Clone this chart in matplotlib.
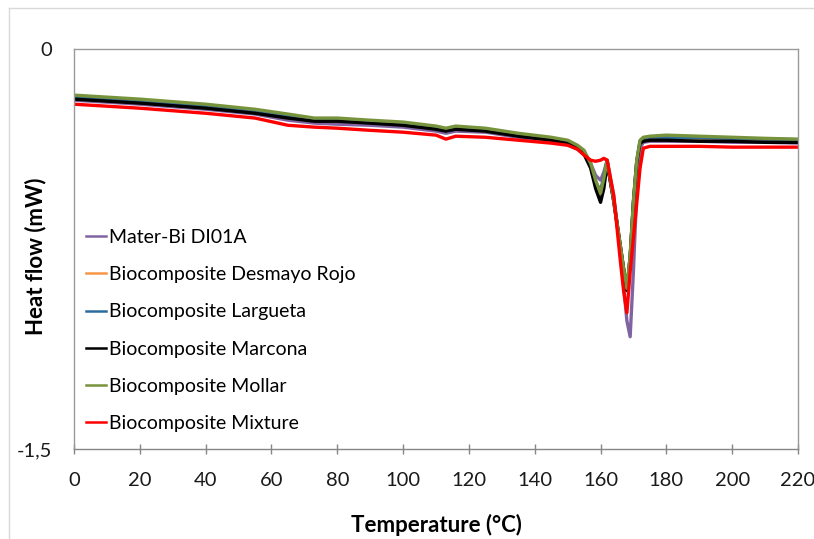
import matplotlib
matplotlib.use("Agg")
import matplotlib.pyplot as plt
from matplotlib.lines import Line2D

plt.rcParams['font.family'] = ['Lato', 'DejaVu Sans']

temperature = [0, 20, 40, 55, 65, 73, 80, 90, 100, 110, 113, 116, 125, 135, 145, 150, 153, 155,
               157, 158.5, 160, 161, 162, 164, 166, 167, 168, 169, 170, 171, 172, 173, 175,
               180, 190, 200, 210, 220]

mater_bi = [-0.192, -0.207, -0.226, -0.244, -0.267, -0.278, -0.282, -0.286, -0.293, -0.308,
            -0.316, -0.308, -0.312, -0.331, -0.346, -0.357, -0.376, -0.395, -0.429, -0.474,
            -0.492, -0.462, -0.417, -0.549, -0.756, -0.887, -1.019, -1.079, -0.831, -0.530,
            -0.372, -0.350, -0.346, -0.346, -0.346, -0.350, -0.350, -0.353]

desmayo_rojo = [-0.185, -0.200, -0.219, -0.238, -0.256, -0.268, -0.268, -0.275, -0.283, -0.298,
                -0.305, -0.298, -0.305, -0.324, -0.339, -0.350, -0.369, -0.391, -0.440, -0.510,
                -0.545, -0.500, -0.425, -0.570, -0.740, -0.825, -0.900, -0.780, -0.573, -0.423,
                -0.350, -0.343, -0.339, -0.339, -0.342, -0.343, -0.347, -0.347]

largueta = [-0.180, -0.196, -0.214, -0.233, -0.252, -0.267, -0.267, -0.274, -0.282, -0.297,
            -0.304, -0.297, -0.304, -0.323, -0.338, -0.350, -0.368, -0.387, -0.436, -0.500,
            -0.530, -0.480, -0.421, -0.572, -0.741, -0.827, -0.902, -0.778, -0.572, -0.421,
            -0.346, -0.335, -0.331, -0.331, -0.333, -0.335, -0.338, -0.340]

marcona = [-0.188, -0.203, -0.222, -0.241, -0.259, -0.271, -0.271, -0.278, -0.286, -0.301,
           -0.308, -0.301, -0.308, -0.327, -0.342, -0.353, -0.372, -0.395, -0.447, -0.523,
           -0.575, -0.523, -0.429, -0.568, -0.737, -0.823, -0.906, -0.782, -0.575, -0.425,
           -0.353, -0.346, -0.342, -0.342, -0.346, -0.346, -0.350, -0.350]

mollar = [-0.173, -0.188, -0.207, -0.226, -0.244, -0.259, -0.259, -0.267, -0.274, -0.289,
          -0.297, -0.289, -0.297, -0.316, -0.331, -0.342, -0.361, -0.380, -0.429, -0.492,
          -0.541, -0.485, -0.417, -0.568, -0.737, -0.823, -0.898, -0.774, -0.568, -0.417,
          -0.342, -0.331, -0.327, -0.323, -0.327, -0.331, -0.335, -0.338]

mixture = [-0.207, -0.222, -0.241, -0.259, -0.286, -0.293, -0.297, -0.305, -0.312, -0.323,
           -0.338, -0.327, -0.331, -0.342, -0.353, -0.361, -0.376, -0.398, -0.417, -0.421,
           -0.417, -0.410, -0.417, -0.549, -0.793, -0.906, -0.989, -0.835, -0.707, -0.579,
           -0.447, -0.372, -0.365, -0.365, -0.365, -0.368, -0.368, -0.368]

series_labels = ["Mater-Bi DI01A", "Biocomposite Desmayo Rojo", "Biocomposite Largueta",
                 "Biocomposite Marcona", "Biocomposite Mollar", "Biocomposite Mixture"]
series_values = [mater_bi, desmayo_rojo, largueta, marcona, mollar, mixture]
series_colors = ["#8064A2", "#F79646", "#2C6C9C", "#000000", "#77933C", "#FF0000"]

x_ticks = [0, 20, 40, 60, 80, 100, 120, 140, 160, 180, 200, 220]
y_ticks = [0, -1.5]
y_tick_labels = ["0", "-1,5"]

fig = plt.figure(figsize=(8.14, 5.39), dpi=100)
W, H = 814, 539
ax = fig.add_axes([74 / W, 1 - 449 / H, (798 - 74) / W, (449 - 49) / H])

for vals, lab, col in zip(series_values, series_labels, series_colors):
    ax.plot(temperature, vals, color=col, lw=2.4, label=lab, solid_joinstyle='round')

ax.set_xlim(0, 220)
ax.set_ylim(-1.5, 0)
ax.set_xticks(x_ticks)
ax.set_yticks(y_ticks)
ax.set_yticklabels(y_tick_labels)
ax.tick_params(axis='x', direction='inout', length=7, width=1, color='#868686',
               labelsize=14.5, pad=13, labelcolor='#1a1a1a')
ax.tick_params(axis='y', length=0, labelsize=14.5, pad=16, labelcolor='#1a1a1a')
for s in ax.spines.values():
    s.set_color('#9a9a9a')
    s.set_linewidth(1)
ax.spines['bottom'].set_color('#868686')

handles = [Line2D([], [], color=c, lw=1.8) for c in series_colors]
fig.legend(handles, series_labels, loc='upper left', bbox_to_anchor=(86 / W, 1 - 229 / H),
           frameon=False, fontsize=14, handlelength=1.05, handletextpad=0.12,
           labelspacing=1.04, borderpad=0, borderaxespad=0)

fig.text(436 / W, 1 - 525 / H, "Temperature (°C)", ha='center', va='center',
         fontsize=16, fontweight='bold')
fig.text(36 / W, 1 - 256 / H, "Heat flow (mW)", ha='center', va='center',
         fontsize=16, fontweight='bold', rotation=90)

fig.add_artist(Line2D([9 / W, 1], [1 - 8 / H, 1 - 8 / H], color='#d9d9d9', lw=1,
                      transform=fig.transFigure))
fig.add_artist(Line2D([9 / W, 9 / W], [0, 1 - 8 / H], color='#d9d9d9', lw=1,
                      transform=fig.transFigure))

fig.savefig("out.png", dpi=100)
